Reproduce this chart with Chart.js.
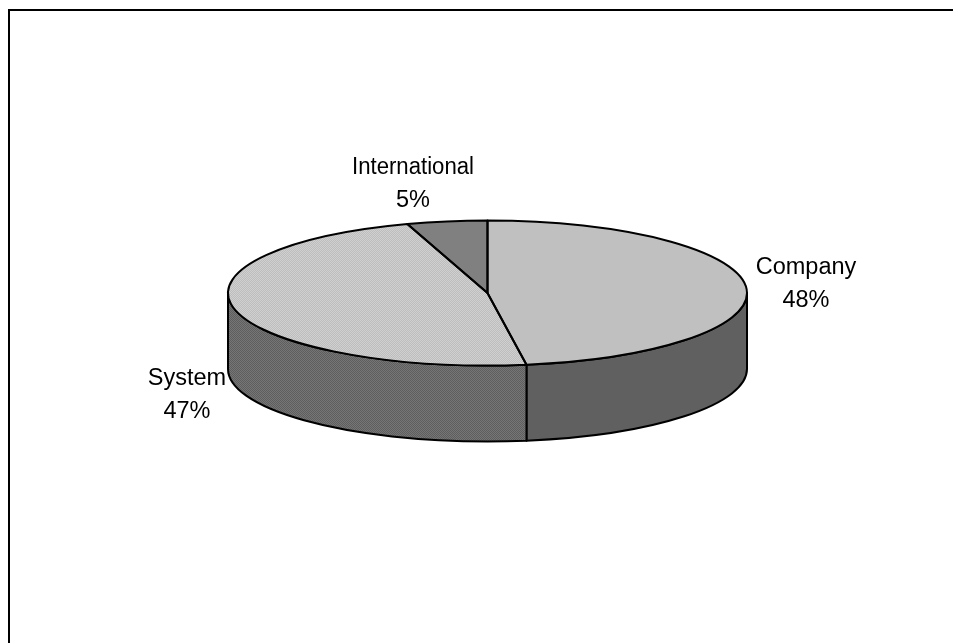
<!DOCTYPE html>
<html>
<head>
<meta charset="utf-8">
<title>Pie</title>
<style>
    html, body { margin: 0; padding: 0; background: #fff; overflow: hidden; }
    canvas { display: block; }
</style>
<script src="https://cdn.jsdelivr.net/npm/chart.js@4/dist/chart.umd.min.js"></script>
</head>
<body>
<canvas id="pie" width="953" height="643"></canvas>
<script>
const categories = ['Company', 'System', 'International'];
const shares = [47.6, 47.4, 5];

// look of the fake 3D disc
const tilt = 72.5 / 259.5;
const depth = 76;
const labelFont = '23.5px "Liberation Sans", Arial, sans-serif';
const labelSpots = [[806, 268], [187, 379], [413, 168]];
const labelMaxWidth = 122;

// two tone dither, same idea as the old office hatch fills
function dither(light, dark) {
    const c = document.createElement('canvas');
    c.width = c.height = 2;
    const g = c.getContext('2d');
    g.fillStyle = light;
    g.fillRect(0, 0, 2, 2);
    g.fillStyle = dark;
    g.fillRect(0, 0, 1, 1);
    g.fillRect(1, 1, 1, 1);
    return document.getElementById('pie').getContext('2d').createPattern(c, 'repeat');
}

const systemTop = dither('#d6d6d6', '#b8b8b8');
// the top gets squashed with the canvas, so undo that on the pattern
systemTop.setTransform(new DOMMatrix().scale(1, 1 / tilt));
const systemSide = dither('#767676', '#5e5e5e');
const topColors = ['#c0c0c0', systemTop, '#808080'];
const sideColors = ['#606060', systemSide, '#404040'];

const discPlugin = {
    id: 'disc',
    beforeDraw(chart) {
        // frame only has its top and left edge in the picture
        const ctx = chart.ctx;
        ctx.fillStyle = '#000';
        ctx.fillRect(8, 9, 945, 2);
        ctx.fillRect(8, 9, 2, 634);
    },
    beforeDatasetDraw(chart) {
        const ctx = chart.ctx;
        const arcs = chart.getDatasetMeta(0).data;

        // side wall, only the front half of the disc shows
        arcs.forEach((arc, i) => {
            const from = Math.max(arc.startAngle, 0);
            const to = Math.min(arc.endAngle, Math.PI);
            if (from >= to) return;
            const rx = arc.outerRadius;
            const ry = rx * tilt;
            ctx.beginPath();
            ctx.ellipse(arc.x, arc.y, rx, ry, 0, from, to);
            ctx.ellipse(arc.x, arc.y + depth, rx, ry, 0, to, from, true);
            ctx.closePath();
            ctx.fillStyle = sideColors[i];
            ctx.fill();
            ctx.strokeStyle = '#000';
            ctx.lineWidth = 2;
            ctx.lineJoin = 'round';
            ctx.stroke();
        });

        // library draws the slices flattened
        const cy = arcs[0].y;
        ctx.save();
        ctx.translate(0, cy);
        ctx.scale(1, tilt);
        ctx.translate(0, -cy);
    },
    afterDatasetDraw(chart) {
        const ctx = chart.ctx;
        ctx.restore();

        // outlines go on after the restore so the line width stays even
        chart.getDatasetMeta(0).data.forEach((arc) => {
            const rx = arc.outerRadius;
            ctx.beginPath();
            ctx.moveTo(arc.x, arc.y);
            ctx.ellipse(arc.x, arc.y, rx, rx * tilt, 0, arc.startAngle, arc.endAngle);
            ctx.closePath();
            ctx.strokeStyle = '#000';
            ctx.lineWidth = 2;
            ctx.lineJoin = 'round';
            ctx.stroke();
        });

        // labels
        ctx.fillStyle = '#000';
        ctx.font = labelFont;
        ctx.textAlign = 'center';
        ctx.textBaseline = 'middle';
        categories.forEach((name, i) => {
            ctx.fillText(name, labelSpots[i][0], labelSpots[i][1], labelMaxWidth);
            ctx.fillText(Math.round(shares[i]) + '%', labelSpots[i][0], labelSpots[i][1] + 33);
        });
    }
};

new Chart(document.getElementById('pie'), {
    type: 'pie',
    data: {
        labels: categories,
        datasets: [{
            data: shares,
            backgroundColor: topColors,
            borderWidth: 0,
            clip: false
        }]
    },
    options: {
        responsive: false,
        animation: false,
        layout: {
            padding: { left: 228, right: 206, top: 33.5, bottom: 90.5 }
        },
        plugins: {
            legend: { display: false },
            tooltip: { enabled: false }
        }
    },
    plugins: [discPlugin]
});
</script>
</body>
</html>
